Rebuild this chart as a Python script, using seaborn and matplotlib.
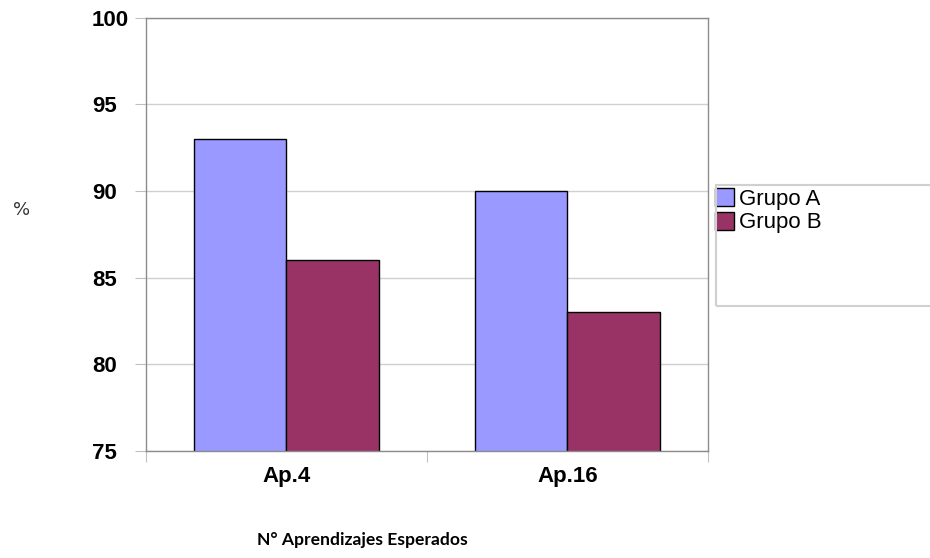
import pandas as pd
import seaborn as sns
import matplotlib.pyplot as plt
from matplotlib.patches import Rectangle

# datos
categorias = ['Ap.4', 'Ap.16']
grupo_a = [93, 90]
grupo_b = [86, 83]
grupos = ['Grupo A', 'Grupo B']
colores = ['#9999FF', '#993366']

df = pd.DataFrame({
    'cat': categorias * 2,
    'valor': grupo_a + grupo_b,
    'grupo': [grupos[0]] * 2 + [grupos[1]] * 2,
})

sns.set_style('white')
plt.rcParams['font.family'] = ['Liberation Sans', 'DejaVu Sans']
plt.rcParams['text.color'] = 'black'
plt.rcParams['xtick.color'] = '#c0c0c0'
plt.rcParams['ytick.color'] = '#c0c0c0'
plt.rcParams['xtick.labelcolor'] = 'black'
plt.rcParams['ytick.labelcolor'] = 'black'

fig = plt.figure(figsize=(9.3, 5.58), dpi=100)
ax = fig.add_axes([0.157, 0.192, 0.604, 0.776])

sns.barplot(data=df, x='cat', y='valor', hue='grupo', palette=colores,
            width=0.66, edgecolor='black', linewidth=1, saturation=1, ax=ax)

ax.set_ylim(75, 100)
ax.set_xlim(-0.5, 1.5)
ax.set_yticks([75, 80, 85, 90, 95, 100])
ax.yaxis.grid(True, color='#d0d0d0', linewidth=1)
ax.set_axisbelow(True)
for s in ax.spines.values():
    s.set_color('#8c8c8c')
    s.set_linewidth(1)

# ticks del eje x en los limites de categoria
ax.set_xticks([-0.5, 0.5, 1.5], minor=False)
ax.set_xticklabels([])
ax.set_xticks([0, 1], minor=True)
ax.set_xticklabels(categorias, minor=True, fontsize=16, fontweight='bold')
ax.tick_params(axis='x', which='major', length=8, bottom=True)
ax.tick_params(axis='x', which='minor', length=0, pad=11)
# etiquetas del eje y alineadas a la izquierda
ax.tick_params(axis='y', length=8, left=True, labelsize=16, pad=31)
for t in ax.get_yticklabels():
    t.set_fontweight('bold')
    t.set_horizontalalignment('left')

ax.set_xlabel('')
ax.set_ylabel('')
fig.text(362 / 930, 1 - 540 / 558, 'N° Aprendizajes Esperados', fontsize=12.6,
         fontweight='bold', family=['Lato', 'DejaVu Sans'], ha='center', va='center')
fig.text(22 / 930, 1 - 210 / 558, '%', fontsize=13, color='#333333',
         ha='center', va='center', family=['DejaVu Sans'])

# leyenda con su recuadro
leg = ax.legend(loc='upper left', bbox_to_anchor=(715 / 930, 1 - 188 / 558),
                bbox_transform=fig.transFigure, frameon=False,
                fontsize=16, handlelength=0.86, handleheight=0.86, handletextpad=0.23,
                borderpad=0, borderaxespad=0, labelspacing=0.1)
for h in leg.legend_handles:
    h.set_edgecolor('black')
fig.patches.append(Rectangle((716 / 930, 1 - 306 / 558), 0.3, 121 / 558,
                             transform=fig.transFigure, fill=False,
                             edgecolor='#d0d0d0', linewidth=1.5))

fig.savefig('out.png', dpi=100)
